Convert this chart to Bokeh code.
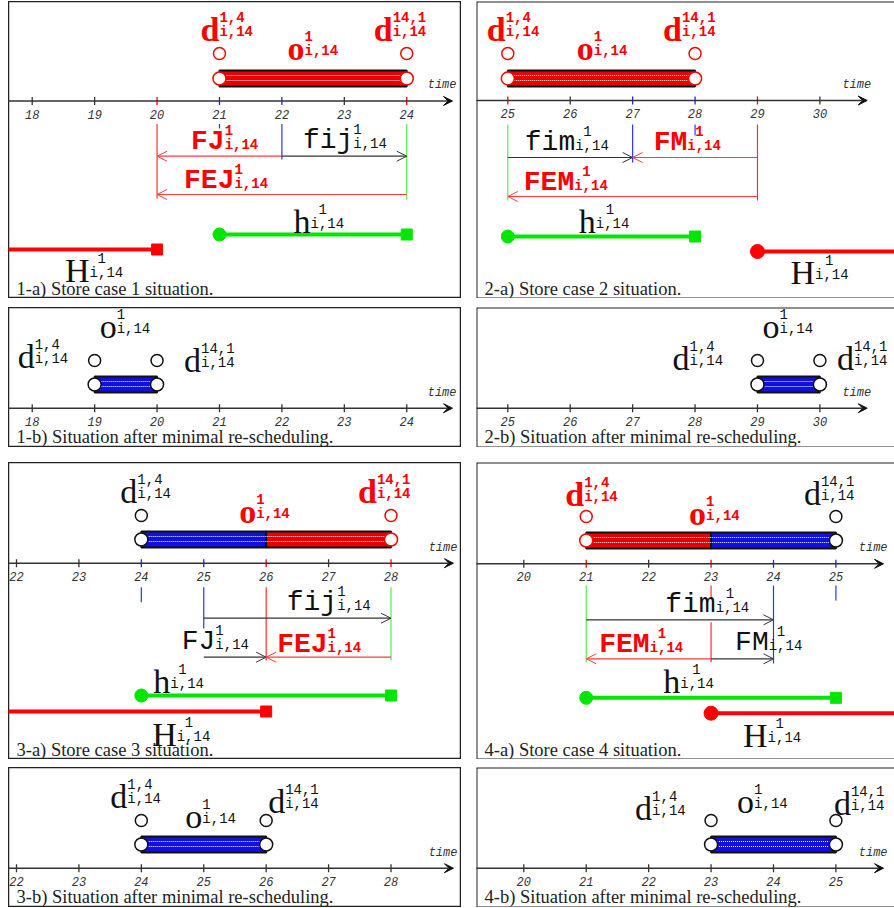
from bokeh.plotting import figure
from bokeh.layouts import column, row
from bokeh.models import Range1d, Arrow, OpenHead, VeeHead, Spacer, Span
from bokeh.embed import file_html
from bokeh.resources import INLINE
from bokeh.core.properties import value

# ------------------------------------------------------------------ data
ticks_1 = [18, 19, 20, 21, 22, 23, 24]
ticks_2 = [25, 26, 27, 28, 29, 30]
ticks_3 = [22, 23, 24, 25, 26, 27, 28]
ticks_4 = [20, 21, 22, 23, 24, 25]

# operation o^1_{i,14} before re-scheduling, as pieces (start, end, in conflict?)
op_start_1a = [21];      op_end_1a = [24];      op_conf_1a = [True]
op_start_2a = [25];      op_end_2a = [28];      op_conf_2a = [True]
op_start_3a = [24, 26];  op_end_3a = [26, 28];  op_conf_3a = [False, True]
op_start_4a = [21, 23];  op_end_4a = [23, 25];  op_conf_4a = [True, False]

# operation after minimal re-scheduling (start, end)
op_1b = [19, 20]
op_2b = [29, 30]
op_3b = [24, 26]
op_4b = [23, 25]

# dates d^{1,4}_{i,14}, d^{14,1}_{i,14} and whether they are in conflict
dates_1a = [21, 24]; dates_conf_1a = [True, True]
dates_2a = [25, 28]; dates_conf_2a = [True, True]
dates_3a = [24, 28]; dates_conf_3a = [False, True]
dates_4a = [21, 25]; dates_conf_4a = [True, False]

# interval arrows (name, from, to, in conflict?)
arr_name_1a = ["FJ", "fij", "FEJ"];  arr_from_1a = [22, 22, 24]; arr_to_1a = [20, 24, 20]; arr_conf_1a = [True, False, True]
arr_name_2a = ["fim", "FM", "FEM"];  arr_from_2a = [25, 29, 29]; arr_to_2a = [27, 27, 25]; arr_conf_2a = [False, True, True]
arr_name_3a = ["fij", "FJ", "FEJ"];  arr_from_3a = [25, 25, 28]; arr_to_3a = [28, 26, 26]; arr_conf_3a = [False, False, True]
arr_name_4a = ["fim", "FEM", "FM"];  arr_from_4a = [21, 23, 23]; arr_to_4a = [24, 21, 24]; arr_conf_4a = [False, True, False]

# windows h^1_{i,14} and H^1_{i,14} (None = open end)
h_1a = [21, 24]; H_1a = [None, 20]
h_2a = [25, 28]; H_2a = [29, None]
h_3a = [24, 28]; H_3a = [None, 26]
h_4a = [21, 25]; H_4a = [23, None]

# marked ticks on the axis
red_ticks_1a = [20, 24]; blue_ticks_1a = [21, 22]
red_ticks_2a = [25, 29]; blue_ticks_2a = [27, 28]
red_ticks_3a = [26, 28]; blue_ticks_3a = [24, 25]
red_ticks_4a = [21, 23]; blue_ticks_4a = [24, 25]

# guide lines under the axis (time, kind)
guide_t_1a = [20, 21, 22, 24];     guide_k_1a = ["red", "blue", "blue", "green"]
guide_t_2a = [25, 27, 28, 29];     guide_k_2a = ["green", "blue", "blue", "red"]
guide_t_3a = [24, 25, 26, 28];     guide_k_3a = ["blue", "blue", "red", "green"]
guide_t_4a = [21, 23, 23, 24, 25]; guide_k_4a = ["green", "red", "red", "blue", "blue"]

captions = ["1-a) Store case 1 situation.", "2-a) Store case 2 situation.",
            "3-a) Store case 3 situation.", "4-a) Store case 4 situation.",
            "1-b) Situation after minimal re-scheduling.", "2-b) Situation after minimal re-scheduling.",
            "3-b) Situation after minimal re-scheduling.", "4-b) Situation after minimal re-scheduling."]

# ------------------------------------------------------------------ styles
LRED = "#ff0000"
LBLK = "#111111"
OP_FILL = {True: "#e80000", False: "#1010e0"}
GUIDE_C = {"red": "#ff3030", "blue": "#3030ff", "green": "#55ee55"}
ARR_C = {True: "#ff3b3b", False: "#333333"}
GREEN = "#00e600"
HRED = "#ff0000"
SCALE = 62.42
SERIF_W = {"d": (0.5, 0.556), "o": (0.5, 0.5), "h": (0.5, 0.556), "H": (0.722, 0.778)}
DESC = {"Liberation Serif": 0.216, "Liberation Mono": 0.30}


def fix(font, size):
    # the renderer puts the alphabetic baseline one descent lower; compensate
    return -DESC[font] * size


def make_fig(xs, w, h, ytop, ybot, right):
    p = figure(width=w, height=h, x_range=Range1d(xs, xs + w / SCALE),
               y_range=Range1d(ybot, ytop), output_backend="svg",
               toolbar_location=None, min_border=0,
               x_axis_type=None, y_axis_type=None)
    p.background_fill_color = "white"
    p.border_fill_color = "white"
    if right:
        p.outline_line_color = None
        p.add_layout(Span(location=xs, dimension="height", line_color="#222222", line_width=2))
        p.add_layout(Span(location=ytop, dimension="width", line_color="#222222", line_width=2))
        p.add_layout(Span(location=ybot, dimension="width", line_color="#222222", line_width=2))
    else:
        p.outline_line_color = "#222222"
        p.outline_line_width = 1.5
    return p


def draw_axis(p, xs, tip, ticks, y, red_t=(), blue_t=()):
    p.add_layout(Arrow(end=VeeHead(size=9, fill_color="#111111", line_color="#111111"),
                       x_start=xs - 0.2, y_start=y, x_end=tip, y_end=y,
                       line_color="#333333", line_width=1.5))
    cols = ["#ff0000" if t in red_t else "#2020ff" if t in blue_t else "#333333" for t in ticks]
    p.segment(x0=ticks, y0=[y - 4] * len(ticks), x1=ticks, y1=[y + 4] * len(ticks),
              line_color=cols, line_width=1.3)
    p.text(x=ticks, y=[y] * len(ticks), text=[str(t) for t in ticks], y_offset=13,
           text_align="center", text_baseline="middle", text_font=value("Liberation Mono"),
           text_font_style="italic", text_font_size="12px", text_color="#333333")
    p.text(x=[tip], y=[y], text=["time"], x_offset=4, y_offset=-12 + fix("Liberation Mono", 12),
           text_align="right", text_baseline="alphabetic", text_font=value("Liberation Mono"),
           text_font_style="italic", text_font_size="12px", text_color="#333333")


def draw_op(p, starts, ends, conf, y):
    p.quad(left=starts, right=ends, top=[y - 8] * len(starts), bottom=[y + 8] * len(starts),
           fill_color=[OP_FILL[c] for c in conf], line_color="#111111", line_width=2)
    lo, hi = min(starts), max(ends)
    for dy in (-3, 2):
        p.line(x=[lo, hi], y=[y + dy, y + dy], line_color="white", line_width=1, line_dash="1 1")
    p.scatter(x=[lo, hi], y=[y, y], size=13, fill_color="white",
              line_color=[LRED if conf[0] else "#111111", LRED if conf[-1] else "#111111"],
              line_width=1.5)


def draw_dates(p, dates, conf, y):
    p.scatter(x=dates, y=[y] * len(dates), size=12, fill_color="white",
              line_color=[LRED if c else "#111111" for c in conf], line_width=1.5)


def draw_guides(p, times, kinds, y0s, y1s):
    p.segment(x0=times, y0=y0s, x1=times, y1=y1s,
              line_color=[GUIDE_C[k] for k in kinds], line_width=1.2)


def draw_arrows(p, froms, tos, conf, ys):
    for a, b, c, y in zip(froms, tos, conf, ys):
        col = ARR_C[c]
        p.add_layout(Arrow(end=OpenHead(size=10, line_color=col, line_width=1),
                           x_start=a, y_start=y, x_end=b, y_end=y,
                           line_color=col, line_width=1.2))


def draw_h(p, h, y):
    p.line(x=h, y=[y, y], line_color=GREEN, line_width=4)
    p.scatter(x=[h[0]], y=[y], size=13, fill_color=GREEN, line_color=GREEN)
    p.scatter(x=[h[1]], y=[y], marker="square", size=11, fill_color=GREEN, line_color=GREEN)


def draw_H(p, H, y, xs, xe):
    a = xs - 0.5 if H[0] is None else H[0]
    b = xe + 0.5 if H[1] is None else H[1]
    p.line(x=[a, b], y=[y, y], line_color=HRED, line_width=4)
    if H[0] is not None:
        p.scatter(x=[a], y=[y], size=14, fill_color=HRED, line_color=HRED)
    if H[1] is not None:
        p.scatter(x=[b], y=[y], marker="square", size=11, fill_color=HRED, line_color=HRED)


def label(p, t, dx, y, main, sup, red=False, sup_dx=0, bold=None, sub="i,14"):
    bold = red if bold is None else bold
    col = LRED if red else LBLK
    style = "bold" if bold else "normal"
    if main in SERIF_W:
        font, size = "Liberation Serif", 34
        w = SERIF_W[main][1 if bold else 0] * size
    else:
        font, size = "Liberation Mono", 28
        w = 0.6 * size * len(main)
    mono = "Liberation Mono"
    common = dict(text_align="left", text_baseline="alphabetic", text_color=col,
                  text_font_style=style)
    p.text(x=[t], y=[y], text=[main], x_offset=dx, y_offset=fix(font, size),
           text_font=value(font), text_font_size=f"{size}px", **common)
    p.text(x=[t], y=[y], text=[sub], x_offset=dx + w, y_offset=fix(mono, 14),
           text_font=value(mono), text_font_size="14px", **common)
    p.text(x=[t], y=[y], text=[sup], x_offset=dx + w + sup_dx, y_offset=-15 + fix(mono, 14),
           text_font=value(mono), text_font_size="14px", **common)


def caption(p, xs, y, txt):
    p.text(x=[xs], y=[y], text=[txt], x_offset=8, y_offset=fix("Liberation Serif", 18.5),
           text_align="left", text_baseline="alphabetic",
           text_font=value("Liberation Serif"), text_font_size="18.5px", text_color="#222222")


LW, RW = 453, 418
HA, HB = 297, 140

# ------------------------------------------------------------------ panel 1-a
xs = 17.620
p1a = make_fig(xs, LW, HA, 1, 298, False)
draw_axis(p1a, xs, 24.733, ticks_1, 100.5, red_ticks_1a, blue_ticks_1a)
draw_guides(p1a, guide_t_1a, guide_k_1a, [123.5] * 4, [198, 128, 159, 199])
draw_arrows(p1a, arr_from_1a, arr_to_1a, arr_conf_1a, [155.7, 155.7, 194])
draw_op(p1a, op_start_1a, op_end_1a, op_conf_1a, 78)
draw_dates(p1a, dates_1a, dates_conf_1a, 53)
draw_h(p1a, h_1a, 234)
draw_H(p1a, H_1a, 249, xs, xs + LW / SCALE)
label(p1a, dates_1a[0], -19, 36, "d", "1,4", dates_conf_1a[0])
label(p1a, op_start_1a[0], 68, 55, "o", "1", True)
label(p1a, dates_1a[1], -33, 36, "d", "14,1", dates_conf_1a[1])
label(p1a, arr_to_1a[0], 34, 149, arr_name_1a[0], "1", True)
label(p1a, arr_from_1a[1], 21, 148, arr_name_1a[1], "1", False)
label(p1a, arr_to_1a[2], 27, 188, arr_name_1a[2], "1", True)
label(p1a, h_1a[0], 74, 228, "h", "1", False, sup_dx=8)
label(p1a, H_1a[1], -92, 277, "H", "1", False, sup_dx=8)
caption(p1a, xs, 292, captions[0])

# ------------------------------------------------------------------ panel 2-a
xs = 24.4986
p2a = make_fig(xs, RW, HA, 1, 298, True)
draw_axis(p2a, xs, 30.758, ticks_2, 100, red_ticks_2a, blue_ticks_2a)
draw_guides(p2a, guide_t_2a, guide_k_2a, [124] * 4, [200, 162, 135, 200])
draw_arrows(p2a, arr_from_2a, arr_to_2a, arr_conf_2a, [157, 157, 196])
draw_op(p2a, op_start_2a, op_end_2a, op_conf_2a, 78)
draw_dates(p2a, dates_2a, dates_conf_2a, 53)
draw_h(p2a, h_2a, 236)
draw_H(p2a, H_2a, 251, xs, xs + RW / SCALE)
label(p2a, dates_2a[0], -21, 36, "d", "1,4", dates_conf_2a[0])
label(p2a, op_start_2a[0], 69, 55, "o", "1", True)
label(p2a, dates_2a[1], -32, 36, "d", "14,1", dates_conf_2a[1])
label(p2a, arr_from_2a[0], 17, 150, arr_name_2a[0], "1", False, sup_dx=8)
label(p2a, arr_to_2a[1], 21, 150, arr_name_2a[1], "1", True, sup_dx=8)
label(p2a, arr_to_2a[2], 16, 190, arr_name_2a[2], "1", True, sup_dx=8)
label(p2a, h_2a[0], 71, 228, "h", "1", False, sup_dx=10)
label(p2a, H_2a[0], 33, 279, "H", "1", False, sup_dx=10)
caption(p2a, xs, 292, captions[1])

# ------------------------------------------------------------------ panel 1-b
xs = 17.620
p1b = make_fig(xs, LW, HB, 307, 447, False)
draw_axis(p1b, xs, 24.733, ticks_1, 407.7)
draw_op(p1b, [op_1b[0]], [op_1b[1]], [False], 384)
draw_dates(p1b, op_1b, [False, False], 360)
label(p1b, op_1b[0], -77, 363, "d", "1,4")
label(p1b, op_1b[0], 5, 333, "o", "1")
label(p1b, op_1b[1], 27, 367, "d", "14,1")
caption(p1b, xs, 440, captions[4])

# ------------------------------------------------------------------ panel 2-b
xs = 24.4986
p2b = make_fig(xs, RW, HB, 307, 447, True)
draw_axis(p2b, xs, 30.758, ticks_2, 407.7)
draw_op(p2b, [op_2b[0]], [op_2b[1]], [False], 384)
draw_dates(p2b, op_2b, [False, False], 360)
label(p2b, op_2b[0], -85, 365, "d", "1,4")
label(p2b, op_2b[0], 5, 333, "o", "1")
label(p2b, op_2b[1], 17, 365, "d", "14,1")
caption(p2b, xs, 440, captions[5])

# ------------------------------------------------------------------ panel 3-a
xs = 21.872
p3a = make_fig(xs, LW, HA, 462, 759, False)
draw_axis(p3a, xs, 29.0, ticks_3, 562.7, red_ticks_3a, blue_ticks_3a)
draw_guides(p3a, guide_t_3a, guide_k_3a, [586.7] * 4, [601.7, 628, 660, 660])
draw_arrows(p3a, arr_from_3a, arr_to_3a, arr_conf_3a, [617.7, 656.7, 656.7])
draw_op(p3a, op_start_3a, op_end_3a, op_conf_3a, 539)
draw_dates(p3a, dates_3a, dates_conf_3a, 515)
draw_h(p3a, h_3a, 695)
draw_H(p3a, H_3a, 711, xs, xs + LW / SCALE)
label(p3a, dates_3a[0], -21, 498, "d", "1,4", dates_conf_3a[0])
label(p3a, op_end_3a[0], -27, 518, "o", "1", True)
label(p3a, dates_3a[1], -33, 498, "d", "14,1", dates_conf_3a[1])
label(p3a, arr_from_3a[0], 83, 610, arr_name_3a[0], "1", False)
label(p3a, arr_from_3a[1], -22, 649, arr_name_3a[1], "1", False)
label(p3a, arr_to_3a[2], 11, 652, arr_name_3a[2], "1", True)
label(p3a, h_3a[0], 12, 688, "h", "1", False, sup_dx=8)
label(p3a, H_3a[1], -114, 741, "H", "1", False, sup_dx=8)
caption(p3a, xs, 753, captions[2])

# ------------------------------------------------------------------ panel 4-a
xs = 19.242
p4a = make_fig(xs, RW, HA, 462, 759, True)
draw_axis(p4a, xs, 25.763, ticks_4, 563.3, red_ticks_4a, blue_ticks_4a)
draw_guides(p4a, guide_t_4a, guide_k_4a, [585, 585, 621.7, 585, 585], [661.7, 596.7, 661.7, 663, 600])
draw_arrows(p4a, arr_from_4a, arr_to_4a, arr_conf_4a, [619.3, 658.3, 658.3])
draw_op(p4a, op_start_4a, op_end_4a, op_conf_4a, 540)
draw_dates(p4a, dates_4a, dates_conf_4a, 516)
draw_h(p4a, h_4a, 697.3)
draw_H(p4a, H_4a, 712.7, xs, xs + RW / SCALE)
label(p4a, dates_4a[0], -21, 501, "d", "1,4", dates_conf_4a[0])
label(p4a, op_end_4a[0], -22, 520, "o", "1", True)
label(p4a, dates_4a[1], -32, 500, "d", "14,1", dates_conf_4a[1])
label(p4a, arr_from_4a[0], 79, 612, arr_name_4a[0], "1", False, sup_dx=10)
label(p4a, arr_to_4a[1], 13, 652, arr_name_4a[1], "1", True, sup_dx=8)
label(p4a, arr_from_4a[2], 24, 650, arr_name_4a[2], "1", False, sup_dx=8)
label(p4a, h_4a[0], 77, 688, "h", "1", False, sup_dx=12)
label(p4a, H_4a[0], 32, 742, "H", "1", False, sup_dx=8)
caption(p4a, xs, 753, captions[3])

# ------------------------------------------------------------------ panel 3-b
xs = 21.872
p3b = make_fig(xs, LW, HB, 767, 907, False)
draw_axis(p3b, xs, 29.0, ticks_3, 867.7)
draw_op(p3b, [op_3b[0]], [op_3b[1]], [False], 844)
draw_dates(p3b, op_3b, [False, False], 820)
label(p3b, op_3b[0], -31, 803, "d", "1,4")
label(p3b, op_3b[0], 44, 823, "o", "1")
label(p3b, op_3b[1], 2, 808, "d", "14,1")
caption(p3b, xs, 900, captions[6])

# ------------------------------------------------------------------ panel 4-b
xs = 19.242
p4b = make_fig(xs, RW, HB, 767, 907, True)
draw_axis(p4b, xs, 25.763, ticks_4, 867.7)
draw_op(p4b, [op_4b[0]], [op_4b[1]], [False], 844)
draw_dates(p4b, op_4b, [False, False], 820)
label(p4b, op_4b[0], -76, 815, "d", "1,4")
label(p4b, op_4b[0], 26, 808, "o", "1")
label(p4b, op_4b[1], -2, 810, "d", "14,1")
caption(p4b, xs, 900, captions[7])


def prow(a, b, h):
    return row(Spacer(width=8, height=h), a, Spacer(width=15, height=h), b)


layout = column(
    Spacer(width=10, height=1),
    prow(p1a, p2a, HA),
    Spacer(width=10, height=9),
    prow(p1b, p2b, HB),
    Spacer(width=10, height=15),
    prow(p3a, p4a, HA),
    Spacer(width=10, height=8),
    prow(p3b, p4b, HB),
)

open("out.html", "w").write(file_html(layout, INLINE))
